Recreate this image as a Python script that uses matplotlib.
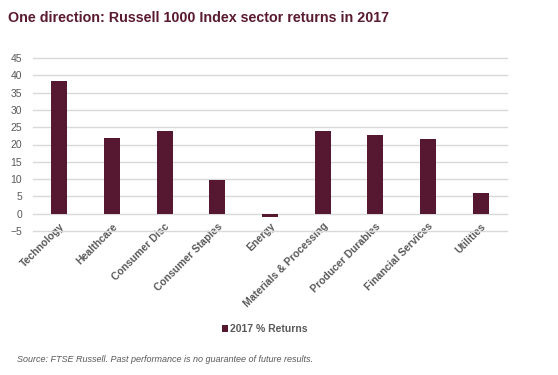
"""Russell 1000 sector returns in 2017 bar chart."""

import matplotlib.pyplot as plt
import numpy as np

plt.rcParams["font.family"] = ["Liberation Sans", "DejaVu Sans"]

sectors = [
    "Technology", "Healthcare", "Consumer Disc", "Consumer Staples", "Energy",
    "Materials & Processing", "Producer Durables", "Financial Services", "Utilities",
]
returns_2017 = [38.3, 21.9, 23.9, 9.8, -1.0, 23.9, 22.8, 21.6, 6.1]
y_ticks = list(range(-5, 50, 5))

bar_color = "#561830"
grey = "#595959"

fig = plt.figure(figsize=(5.58, 3.75), dpi=100)
ax = fig.add_axes([33 / 558, 1 - 231 / 375, 474 / 558, 173 / 375])

x = np.arange(len(sectors))
ax.bar(x, returns_2017, width=0.31, color=bar_color, label="2017 % Returns", zorder=3)

ax.set_xlim(-0.5, len(sectors) - 0.5)
ax.set_ylim(-5, 45)
ax.set_yticks(y_ticks)
ax.yaxis.grid(True, color="#d9d9d9", linewidth=1.0, zorder=0)
for gl in ax.get_ygridlines():
    gl.set_clip_on(False)
for s in ax.spines.values():
    s.set_visible(False)
ax.tick_params(axis="both", length=0)
ax.tick_params(axis="y", labelsize=7.5, labelcolor=grey, pad=8)
ax.set_xticks(x)
ax.set_xticklabels(sectors, rotation=45, ha="right", rotation_mode="anchor",
                   fontsize=7.5, fontweight="bold", color=grey)
ax.tick_params(axis="x", pad=-7)

fig.text(8 / 558, 1 - 18 / 375, "One direction: Russell 1000 Index sector returns in 2017",
         fontsize=10.3, fontweight="bold", color="#5a1a30", va="center")

fig.legend(loc="center", bbox_to_anchor=(265 / 558, 1 - 329 / 375), frameon=False,
           handlelength=0.6, handleheight=0.6, handletextpad=0.2,
           labelcolor=grey, prop={"weight": "bold", "size": 7.5})

fig.text(17 / 558, 1 - 360 / 375,
         "Source: FTSE Russell. Past performance is no guarantee of future results.",
         fontsize=6.5, style="italic", color=grey, va="center")

fig.savefig("out.png", dpi=100)
